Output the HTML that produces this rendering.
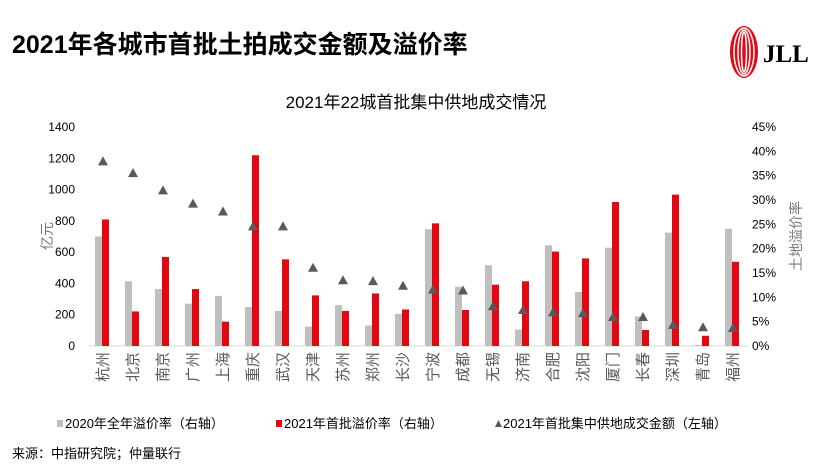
<!DOCTYPE html>
<html><head><meta charset="utf-8"><style>
body{margin:0;background:#fff;}
svg{display:block;font-family:"Liberation Sans","Noto Sans CJK SC",sans-serif;}
</style></head><body>
<svg id="c" width="833" height="468" viewBox="0 0 833 468">
<text x="12" y="53" font-size="25" font-weight="bold" fill="#000">2021年各城市首批土拍成交金额及溢价率</text>
<g>
<ellipse cx="744" cy="52" rx="14" ry="26" fill="#e30613"/>
<ellipse cx="744" cy="52" rx="10" ry="24" fill="none" stroke="#fff" stroke-width="1.5"/>
<ellipse cx="744" cy="52" rx="6" ry="22" fill="none" stroke="#fff" stroke-width="1.5"/>
<ellipse cx="744" cy="52" rx="2.5" ry="20" fill="none" stroke="#fff" stroke-width="1.5"/>
<text x="763" y="62" font-size="25" font-weight="bold" font-family="Liberation Serif,serif" fill="#000">JLL</text>
</g>
<text x="416" y="108" font-size="17" text-anchor="middle" fill="#000">2021年22城首批集中供地成交情况</text>
<g id="plot"></g>
<text transform="translate(52,236) rotate(-90)" font-size="14" fill="#777" text-anchor="middle">亿元</text>
<text transform="translate(801,236) rotate(-90)" font-size="14" fill="#777" text-anchor="middle">土地溢价率</text>
<g>
<rect x="57" y="420" width="6" height="7" fill="#bfbfbf"/>
<text x="65" y="428" font-size="13" fill="#000">2020年全年溢价率（右轴）</text>
<rect x="276" y="420" width="6" height="7" fill="#e30613"/>
<text x="284" y="428" font-size="13" fill="#000">2021年首批溢价率（右轴）</text>
<path d="M495,427 L498.5,420 L502,427 Z" fill="#595959"/>
<text x="503" y="428" font-size="13" fill="#000">2021年首批集中供地成交金额（左轴）</text>
</g>
<text x="12" y="458" font-size="13" fill="#000">来源：中指研究院；仲量联行</text>
</svg>
<script>
const cities=["杭州","北京","南京","广州","上海","重庆","武汉","天津","苏州","郑州","长沙","宁波","成都","无锡","济南","合肥","沈阳","厦门","长春","深圳","青岛","福州"];
const premium2020=[22.5,13.3,11.7,8.7,10.3,8.0,7.2,4.0,8.4,4.2,6.6,24.0,12.2,16.6,3.4,20.7,11.1,20.2,6.1,23.3,0.2,24.1];
const premium2021=[26.0,7.1,18.3,11.7,5.0,39.2,17.8,10.4,7.2,10.8,7.5,25.2,7.4,12.6,13.3,19.4,18.0,29.6,3.3,31.1,2.1,17.3];
const amount2021=[1180,1105,995,910,860,765,765,500,420,415,385,360,355,255,230,215,210,185,185,135,120,115];
const leftTicks=[0,200,400,600,800,1000,1200,1400];
const rightTicks=[0,5,10,15,20,25,30,35,40,45];
const ns="http://www.w3.org/2000/svg";
const g=document.getElementById('plot');
const x0=88,x1=748,yB=346,yT=127;
const step=(x1-x0)/cities.length;
const xC=i=>x0+step*(i+0.5);
const yL=v=>yB-(v/1400)*(yB-yT);
const yR=v=>yB-(v/45)*(yB-yT);
function mk(t,a){const e=document.createElementNS(ns,t);for(const k in a)e.setAttribute(k,a[k]);g.appendChild(e);return e;}
leftTicks.forEach(v=>{const t=mk('text',{x:75,y:yL(v)+4,'font-size':12,'text-anchor':'end',fill:'#000'});t.textContent=v;

});
rightTicks.forEach(v=>{const t=mk('text',{x:752,y:yR(v)+4,'font-size':12,fill:'#000'});t.textContent=v+'%';

});
const ax=mk('line',{x1:x0,x2:x1,y1:yB,y2:yB,stroke:'#d9d9d9','stroke-width':1});


cities.forEach((c,i)=>{
const cx=xC(i);
const b1=mk('rect',{x:cx-8,y:yR(premium2020[i]),width:7,height:yB-yR(premium2020[i]),fill:'#bfbfbf'});


const b2=mk('rect',{x:cx-1,y:yR(premium2021[i]),width:7,height:yB-yR(premium2021[i]),fill:'#e30613'});


const ty=yL(amount2021[i]);
const tr=mk('path',{d:`M${cx-5},${ty+4} L${cx},${ty-5} L${cx+5},${ty+4} Z`,fill:'#595959'});


const t=mk('text',{transform:`translate(${cx+5},352) rotate(-90)`,'font-size':15,'text-anchor':'end',fill:'#595959'});
t.textContent=c;


});
</script>
</body></html>
